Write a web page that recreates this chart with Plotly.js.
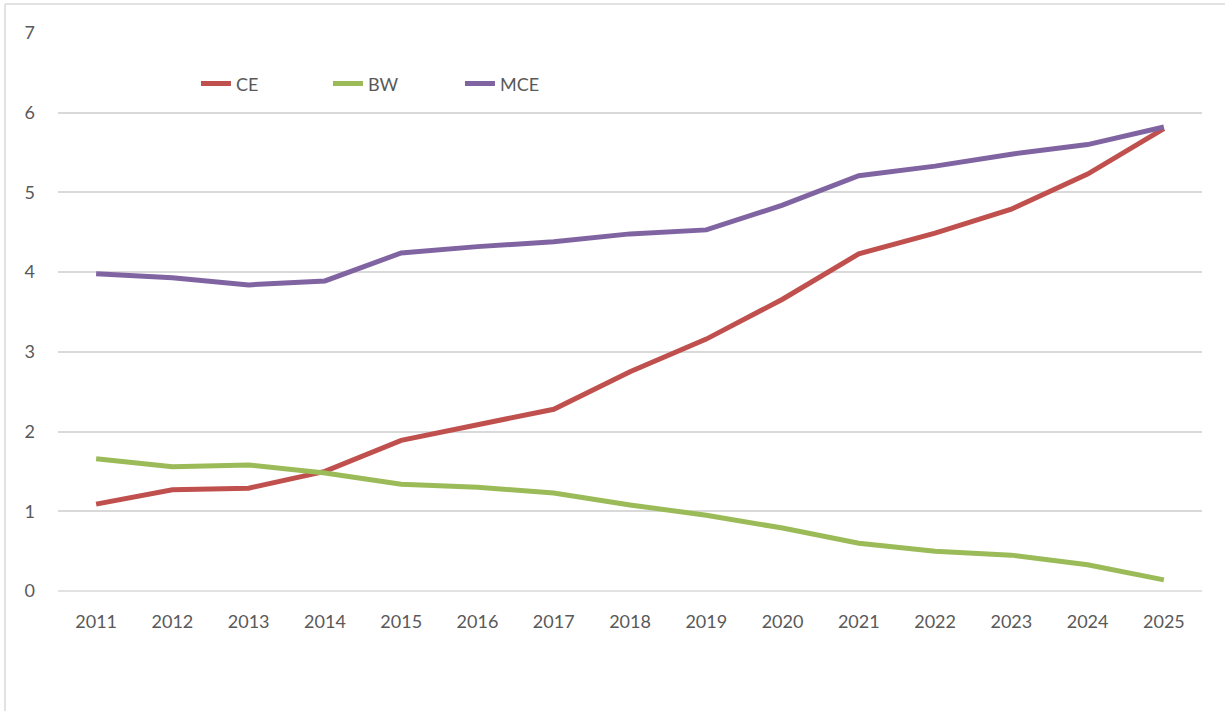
<!DOCTYPE html>
<html>
<head>
<meta charset="utf-8">
<script src="https://cdn.plot.ly/plotly-3.0.1.min.js"></script>
<style>html,body{margin:0;padding:0;background:#fff;}#chart{width:1225px;height:711px;}</style>
</head>
<body>
<div id="chart"></div>
<script>
const years = ["2011","2012","2013","2014","2015","2016","2017","2018","2019","2020","2021","2022","2023","2024","2025"];
const ce  = [1.09,1.27,1.29,1.50,1.89,2.09,2.28,2.75,3.16,3.66,4.23,4.49,4.79,5.23,5.80];
const bw  = [1.66,1.56,1.58,1.48,1.34,1.30,1.23,1.08,0.95,0.79,0.60,0.50,0.45,0.33,0.14];
const mce = [3.98,3.93,3.84,3.89,4.24,4.32,4.38,4.48,4.53,4.84,5.21,5.33,5.48,5.60,5.82];
const yTicks = [0,1,2,3,4,5,6,7];

const font = "Lato, 'Open Sans', sans-serif";
const mk = (name, y, color) => ({
  type: "scatter", mode: "lines", name: name, x: years, y: y,
  line: {color: color, width: 5}
});
const traces = [mk("CE", ce, "#c0504d"), mk("BW", bw, "#9bbb59"), mk("MCE", mce, "#8064a2")];

const layout = {
  width: 1225, height: 711,
  margin: {l: 58, r: 23, t: 33, b: 120},
  paper_bgcolor: "#fff", plot_bgcolor: "#fff",
  font: {family: font, size: 18, color: "#595959"},
  showlegend: true,
  legend: {orientation: "h", x: 0.1206, y: 0.909, xanchor: "left", yanchor: "middle",
           font: {family: font, size: 18, color: "#595959"}, entrywidth: 87, entrywidthmode: "pixels",
           bgcolor: "rgba(0,0,0,0)"},
  xaxis: {type: "category", range: [-0.5, 14.5], showgrid: false, zeroline: false,
          showline: false, ticks: "", ticklabelstandoff: 18,
          tickfont: {family: font, size: 18, color: "#595959"}},
  yaxis: {range: [0, 7], tickvals: yTicks, showgrid: true, gridcolor: "#d9d9d9", gridwidth: 1.5,
          zeroline: false, showline: false, ticks: "", ticklabelstandoff: 22,
          tickfont: {family: font, size: 18, color: "#595959"}},
  shapes: [
    {type: "line", xref: "paper", yref: "paper", x0: 0, x1: 1, y0: 0, y1: 0,
     line: {color: "#d9d9d9", width: 1.5}, layer: "below"},
    {type: "line", xref: "paper", yref: "paper", x0: (5-58)/1144, x1: (5-58)/1144, y0: 1+(33-4)/558, y1: -(711-591)/558,
     line: {color: "#d9d9d9", width: 1.5}},
    {type: "line", xref: "paper", yref: "paper", x0: (5-58)/1144, x1: 1+23/1144, y0: 1+(33-4)/558, y1: 1+(33-4)/558,
     line: {color: "#d9d9d9", width: 1.5}}
  ]
};
Plotly.newPlot("chart", traces, layout, {displayModeBar: false, responsive: false});
</script>
</body>
</html>
